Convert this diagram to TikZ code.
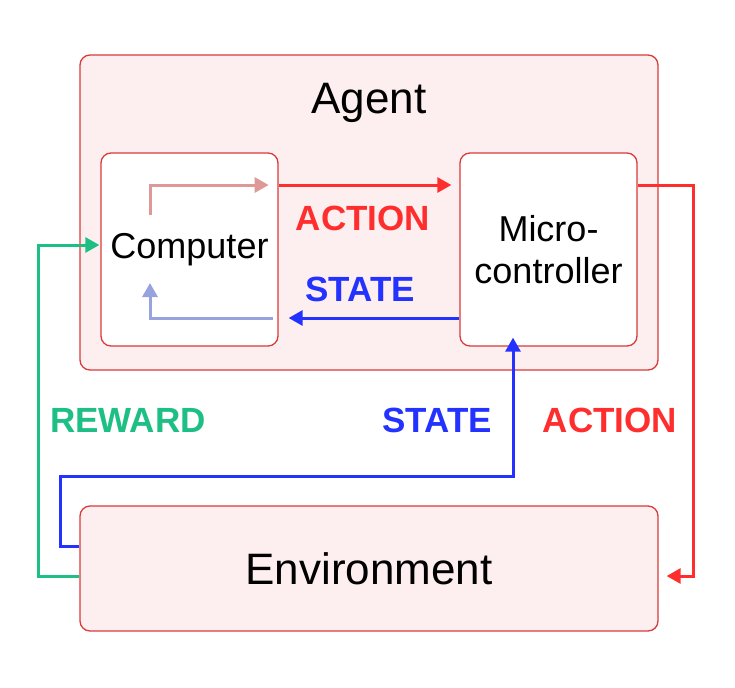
\documentclass[tikz,border=0pt]{standalone}
\usepackage{fontspec}
\setmainfont{Liberation Sans}
\usepackage{tikz}
\usepackage{xcolor}
\usetikzlibrary{
    arrows.meta,
    calc,
    positioning
}
\definecolor{boxfill}{HTML}{FDEFEF}
\definecolor{boxline}{HTML}{D93A3A}
\definecolor{actred}{HTML}{FF2E2E}
\definecolor{stblue}{HTML}{2432FF}
\definecolor{rwgreen}{HTML}{1DBF85}
\definecolor{fadered}{HTML}{DE9898}
\definecolor{fadeblue}{HTML}{98A2DE}

\begin{document}
\begin{tikzpicture}[x=1pt, y=-1pt,
    panel/.style={draw=boxline, line width=1.3pt, rounded corners=10pt, inner sep=0pt},
    wire/.style={line width=3pt, -{Triangle[length=14pt, width=15pt]}},
    tag/.style={font=\fontsize{35}{38}\selectfont\bfseries}]
                    \useasboundingbox (0, 0) rectangle (735, 687);
                    \node[panel, fill=boxfill, minimum width=578pt, minimum height=315pt] (ag) at (369, 212.5) {};
                    \node[font=\fontsize{44}{48}\selectfont] (agt) at (369, 103) {Agent};
                    \node[panel, fill=white, minimum width=177pt, minimum height=193pt, font=\fontsize{36}{42}\selectfont] (cp) at (189.5, 249.5) {Computer};
                    \node[panel, fill=white, minimum width=177pt, minimum height=193pt, font=\fontsize{36}{42}\selectfont, align=center] (mc) at (548.5, 249.5) {Micro-\\controller};
                    \node[panel, fill=boxfill, minimum width=578pt, minimum height=125pt, font=\fontsize{44}{48}\selectfont] (en) at (369, 568.5) {Environment};
                    % labels
                    \node[tag, text=actred] (la1) at (363, 218) {ACTION};
                    \node[tag, text=stblue] (ls1) at (360, 289) {STATE};
                    \node[tag, text=rwgreen] (lr) at (128, 420) {REWARD};
                    \node[tag, text=stblue] (ls2) at (437, 420) {STATE};
                    \node[tag, text=actred] (la2) at (610, 420) {ACTION};
                    % bend points
                    \coordinate (ca) at (150, 215);
                    \coordinate (cb) at (150, 283);
                    \coordinate (ra) at (693, 185);
                    \coordinate (gb) at (38, 245);
                    \coordinate (sb) at (60, 476);
                    \coordinate (sc) at (513, 476);
                    \draw
                    [wire, fadered] (ca) |- ([xshift=-10pt]cp.east |- 0, 185);
                    \draw
                    [wire, fadeblue] ([xshift=-6pt]cp.east |- 0, 318) -| (cb);
                    \draw
                    [wire, actred] (cp.east |- 0, 185) -- ([xshift=-8pt]mc.west |- 0, 185);
                    \draw
                    [wire, stblue] (mc.west |- 0, 318) -- ([xshift=10pt]cp.east |- 0, 318);
                    \draw
                    [wire, actred] (mc.east |- ra) -- (ra) |- ([xshift=8pt]en.east |- 0, 576);
                    \draw
                    [wire, rwgreen] (en.west |- 0, 576) -| (gb) -- ([xshift=-1pt]cp.west |- gb);
                    \draw
                    [wire, stblue] (en.west |- 0, 546) -| (sb) -- (sc) -- ([yshift=9pt]mc.south -| sc);
                \end{tikzpicture}
\end{document}
